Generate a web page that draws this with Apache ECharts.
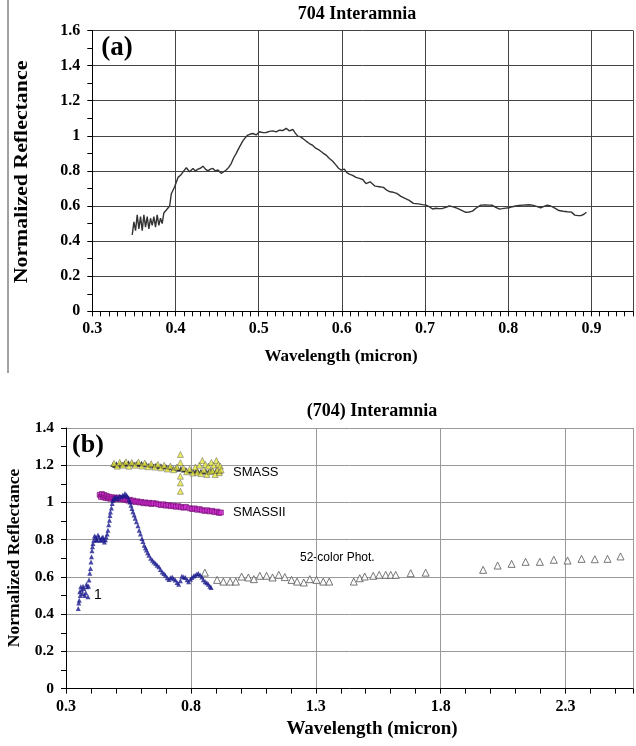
<!DOCTYPE html>
<html>
<head>
<meta charset="utf-8">
<script src="https://cdn.jsdelivr.net/npm/echarts@6/dist/echarts.min.js"></script>
<style>
  html, body { margin: 0; padding: 0; background: #fff; }
  #main { width: 636px; height: 746px; }
</style>
</head>
<body>
<div id="main"></div>
<script>
// (a) spectrum, [wavelength, reflectance]
const spectrumA = [
  [0.348,0.435],[0.350,0.51],[0.352,0.46],[0.354,0.55],[0.356,0.47],[0.358,0.54],[0.360,0.46],[0.362,0.55],
  [0.364,0.48],[0.366,0.54],[0.368,0.47],[0.370,0.53],[0.372,0.49],[0.374,0.54],[0.376,0.48],[0.378,0.55],
  [0.380,0.49],[0.382,0.53],[0.384,0.50],[0.386,0.56],[0.389,0.577],[0.393,0.60],[0.395,0.67],[0.399,0.71],
  [0.403,0.763],[0.407,0.78],[0.410,0.80],[0.413,0.818],[0.417,0.795],[0.421,0.814],[0.424,0.80],[0.427,0.81],
  [0.430,0.815],[0.433,0.827],[0.436,0.81],[0.439,0.80],[0.442,0.81],[0.445,0.814],[0.448,0.80],[0.451,0.805],
  [0.455,0.786],[0.458,0.795],[0.461,0.805],[0.464,0.82],[0.467,0.842],[0.470,0.875],[0.473,0.90],[0.477,0.937],
  [0.481,0.971],[0.484,0.99],[0.487,1.004],[0.490,1.01],[0.493,1.013],[0.497,1.005],[0.501,1.023],[0.505,1.018],
  [0.509,1.019],[0.513,1.025],[0.517,1.028],[0.521,1.022],[0.525,1.032],[0.529,1.03],[0.533,1.042],[0.537,1.028],
  [0.541,1.036],[0.544,1.015],[0.547,0.998],[0.550,0.995],[0.553,0.985],[0.557,0.97],[0.561,0.956],[0.565,0.945],
  [0.569,0.928],[0.573,0.918],[0.577,0.903],[0.581,0.89],[0.585,0.871],[0.589,0.855],[0.593,0.833],[0.596,0.815],
  [0.599,0.805],[0.603,0.81],[0.606,0.79],[0.609,0.782],[0.613,0.775],[0.617,0.763],[0.621,0.757],[0.625,0.751],
  [0.629,0.728],[0.634,0.738],[0.640,0.713],[0.645,0.71],[0.650,0.706],[0.654,0.69],[0.658,0.681],[0.662,0.678],
  [0.666,0.672],[0.671,0.655],[0.676,0.643],[0.681,0.632],[0.686,0.615],[0.692,0.612],[0.697,0.608],[0.701,0.605],
  [0.705,0.596],[0.709,0.583],[0.713,0.587],[0.717,0.585],[0.721,0.586],[0.725,0.592],[0.729,0.60],[0.734,0.595],
  [0.739,0.586],[0.744,0.575],[0.749,0.564],[0.753,0.566],[0.757,0.571],[0.762,0.59],[0.767,0.605],[0.772,0.606],
  [0.777,0.605],[0.781,0.604],[0.785,0.592],[0.789,0.583],[0.793,0.585],[0.797,0.588],[0.801,0.59],[0.805,0.596],
  [0.809,0.60],[0.813,0.603],[0.817,0.605],[0.821,0.606],[0.825,0.607],[0.829,0.605],[0.834,0.598],[0.839,0.590],
  [0.843,0.598],[0.847,0.605],[0.851,0.60],[0.856,0.588],[0.861,0.574],[0.866,0.570],[0.871,0.567],[0.876,0.565],
  [0.880,0.548],[0.884,0.545],[0.888,0.546],[0.891,0.553],[0.894,0.564]
];

// (b) series
const series1 = [
  [0.349,0.43],[0.351,0.46],[0.353,0.475],[0.355,0.52],[0.357,0.50],[0.359,0.547],[0.362,0.53],[0.366,0.51],
  [0.368,0.55],[0.371,0.538],[0.375,0.50],[0.379,0.515],[0.382,0.56],[0.384,0.547],[0.388,0.493],[0.390,0.55],
  [0.392,0.583],[0.395,0.62],[0.398,0.645],[0.400,0.68],[0.402,0.708],[0.404,0.74],[0.406,0.762],[0.408,0.78],
  [0.411,0.797],[0.414,0.82],[0.419,0.815],[0.421,0.80],[0.424,0.797],[0.428,0.825],[0.432,0.815],[0.436,0.80],
  [0.441,0.797],[0.444,0.81],[0.448,0.815],[0.451,0.80],[0.454,0.788],[0.458,0.80],[0.461,0.815],[0.465,0.83],
  [0.468,0.851],[0.471,0.88],[0.474,0.905],[0.476,0.93],[0.478,0.949],[0.482,0.97],[0.485,0.994],[0.488,1.01],
  [0.491,1.021],[0.496,1.025],[0.501,1.03],[0.507,1.02],[0.514,1.034],[0.520,1.03],[0.527,1.039],[0.532,1.035],
  [0.536,1.048],[0.542,1.04],[0.547,1.03],[0.552,1.015],[0.556,1.003],[0.560,0.985],[0.564,0.967],[0.568,0.95],
  [0.573,0.932],[0.577,0.915],[0.582,0.896],[0.588,0.875],[0.593,0.851],[0.598,0.83],[0.604,0.806],[0.608,0.79],
  [0.613,0.77],[0.618,0.757],[0.622,0.744],[0.627,0.73],[0.632,0.717],[0.639,0.70],[0.646,0.69],[0.652,0.68],
  [0.659,0.672],[0.665,0.662],[0.672,0.654],[0.678,0.64],[0.685,0.627],[0.692,0.618],[0.698,0.609],[0.705,0.595],
  [0.712,0.586],[0.718,0.595],[0.725,0.60],[0.731,0.59],[0.738,0.583],[0.745,0.57],[0.751,0.561],[0.758,0.58],
  [0.764,0.604],[0.771,0.60],[0.778,0.597],[0.785,0.585],[0.791,0.574],[0.798,0.588],[0.804,0.597],[0.811,0.605],
  [0.817,0.609],[0.824,0.615],[0.830,0.618],[0.837,0.61],[0.844,0.60],[0.850,0.585],[0.857,0.574],[0.864,0.568],
  [0.870,0.561],[0.876,0.55],[0.881,0.543]
];

const smassII = [
  [0.435,1.041],[0.440,1.03],[0.444,1.045],[0.449,1.028],[0.453,1.04],[0.458,1.025],[0.463,1.035],[0.468,1.022],
  [0.473,1.03],[0.479,1.02],[0.485,1.028],[0.491,1.018],[0.497,1.025],[0.503,1.02],[0.509,1.026],[0.515,1.017],
  [0.521,1.023],[0.528,1.02],[0.535,1.014],[0.542,1.018],[0.549,1.01],[0.556,1.014],[0.563,1.006],[0.570,1.01],
  [0.578,1.003],[0.586,1.006],[0.594,1.0],[0.602,1.003],[0.610,0.996],[0.618,1.0],[0.626,0.995],[0.634,0.998],
  [0.642,0.992],[0.650,0.996],[0.661,0.994],[0.670,0.99],[0.680,0.986],[0.690,0.99],[0.700,0.983],[0.710,0.986],
  [0.720,0.98],[0.730,0.983],[0.740,0.977],[0.750,0.98],[0.760,0.975],[0.770,0.972],[0.780,0.976],[0.794,0.969],
  [0.805,0.965],[0.815,0.968],[0.825,0.961],[0.835,0.964],[0.845,0.958],[0.855,0.955],[0.865,0.958],[0.875,0.952],
  [0.885,0.955],[0.895,0.948],[0.905,0.951],[0.913,0.944],[0.920,0.946]
];

const smassBlack = [
  [0.488,1.204],[0.495,1.198],[0.502,1.208],[0.510,1.20],[0.518,1.21],[0.526,1.203],[0.534,1.212],[0.542,1.205],
  [0.550,1.213],[0.558,1.207],[0.566,1.211],[0.575,1.205],[0.584,1.21],[0.593,1.204],[0.602,1.21],[0.611,1.202],
  [0.620,1.206],[0.630,1.198],[0.640,1.203],[0.650,1.196],[0.660,1.20],[0.670,1.193],[0.680,1.197],[0.690,1.19],
  [0.700,1.193],[0.710,1.186],[0.720,1.19],[0.730,1.183],[0.741,1.186],[0.750,1.178],[0.760,1.182],[0.770,1.174],
  [0.780,1.177],[0.790,1.168],[0.800,1.172],[0.810,1.165],[0.820,1.169],[0.830,1.163],[0.840,1.167],[0.850,1.164],
  [0.860,1.168],[0.870,1.165],[0.880,1.17],[0.890,1.166],[0.900,1.169],[0.910,1.165],[0.918,1.168]
];

const smassYellow = [
  [0.492,1.21],[0.505,1.195],[0.515,1.215],[0.528,1.20],[0.540,1.218],[0.552,1.195],[0.563,1.215],[0.577,1.20],
  [0.590,1.217],[0.603,1.196],[0.615,1.212],[0.628,1.192],[0.641,1.208],[0.655,1.19],[0.668,1.205],[0.680,1.186],
  [0.693,1.20],[0.706,1.18],[0.718,1.196],[0.731,1.176],[0.744,1.19],[0.758,1.258],[0.758,1.213],[0.758,1.141],
  [0.758,1.105],[0.758,1.06],[0.770,1.185],[0.783,1.165],[0.795,1.18],[0.808,1.158],[0.818,1.19],[0.826,1.162],
  [0.834,1.20],[0.840,1.155],[0.846,1.225],[0.852,1.175],[0.858,1.205],[0.864,1.15],[0.870,1.195],[0.876,1.165],
  [0.882,1.215],[0.887,1.17],[0.892,1.2],[0.897,1.15],[0.902,1.225],[0.906,1.175],[0.910,1.205],[0.914,1.16],
  [0.918,1.195],[0.921,1.175]
];

const phot52 = [
  [0.856,0.623],[0.905,0.584],[0.930,0.575],[0.957,0.575],[0.980,0.575],[1.003,0.602],[1.030,0.597],[1.052,0.588],
  [1.076,0.606],[1.103,0.606],[1.127,0.597],[1.152,0.611],[1.176,0.599],[1.203,0.584],[1.225,0.575],[1.252,0.570],
  [1.276,0.588],[1.303,0.584],[1.330,0.575],[1.354,0.575],[1.452,0.575],[1.476,0.593],[1.496,0.602],[1.530,0.606],
  [1.554,0.611],[1.580,0.611],[1.600,0.611],[1.620,0.611],[1.680,0.620],[1.740,0.623],[1.970,0.638],[2.028,0.661],
  [2.084,0.670],[2.140,0.681],[2.197,0.681],[2.253,0.692],[2.308,0.688],[2.364,0.697],[2.417,0.695],[2.468,0.697],
  [2.520,0.710]
];

const serif = '"Liberation Serif", "DejaVu Serif", serif';
const sans = '"Liberation Sans", Arial, sans-serif';

function txt(x, y, text, font, align, extra) {
  align = align || 'center';
  return Object.assign({
    type: 'text', x: x, y: y, silent: true,
    style: { text: text, font: font, fill: '#000', textAlign: align, textVerticalAlign: 'middle', align: align, verticalAlign: 'middle' }
  }, extra || {});
}

// axis with labels + grid lines (ticks drawn by a separate tick axis)
function axisX(grid, min, max, interval, gridColor, fontSize, lastLabel) {
  return {
    type: 'value', gridIndex: grid, min: min, max: max, interval: interval,
    axisLine: { onZero: false, lineStyle: { color: '#000', width: 1 } },
    axisTick: { show: false },
    splitLine: { show: true, lineStyle: { color: gridColor, width: 1 } },
    axisLabel: {
      color: '#000', fontFamily: serif, fontWeight: 'bold', fontSize: fontSize, margin: 10,
      formatter: v => (v > lastLabel + 1e-6 ? '' : v.toFixed(1))
    }
  };
}

function tickX(grid, min, max, interval) {
  return {
    type: 'value', gridIndex: grid, min: min, max: max, interval: interval, position: 'bottom',
    axisLine: { show: false },
    axisTick: { show: true, length: 5, lineStyle: { color: '#000' } },
    splitLine: { show: false },
    axisLabel: { show: false }
  };
}

function axisY(grid, max, gridColor, fontSize) {
  return {
    type: 'value', gridIndex: grid, min: 0, max: max, interval: 0.2,
    axisLine: { show: true, lineStyle: { color: '#000', width: 1 } },
    axisTick: { show: true, length: 5, lineStyle: { color: '#000' } },
    minorTick: { show: true, splitNumber: 2, length: 5, lineStyle: { color: '#000' } },
    splitLine: { show: true, lineStyle: { color: gridColor, width: 1 } },
    axisLabel: { color: '#000', fontFamily: serif, fontWeight: 'bold', fontSize: fontSize, margin: 12 }
  };
}

const chart = echarts.init(document.getElementById('main'));
chart.setOption({
  animation: false,
  backgroundColor: '#fff',
  grid: [
    { left: 92.3, top: 30.5, right: 1.6, height: 280.8 },
    { left: 66, top: 428, right: 0, height: 260.6 }
  ],
  xAxis: [
    axisX(0, 0.3, 0.95, 0.1, '#444', 16, 0.9),
    axisX(1, 0.3, 2.57, 0.5, '#999', 16, 2.3),
    tickX(0, 0.3, 0.95, 0.01),
    tickX(1, 0.3, 2.57, 0.1)
  ],
  yAxis: [
    axisY(0, 1.6, '#444', 16),
    axisY(1, 1.4, '#999', 15.5)
  ],
  series: [
    {
      type: 'line', xAxisIndex: 0, yAxisIndex: 0, data: spectrumA,
      symbol: 'none', lineStyle: { color: '#333', width: 1.4 }
    },
    {
      name: '52-color Phot.', type: 'scatter', xAxisIndex: 1, yAxisIndex: 1, data: phot52,
      symbol: 'triangle', symbolSize: 7,
      itemStyle: { color: '#fff', borderColor: '#555', borderWidth: 1 }
    },
    {
      name: 'SMASSII', type: 'scatter', xAxisIndex: 1, yAxisIndex: 1, data: smassII,
      symbol: 'rect', symbolSize: 5,
      itemStyle: { color: '#d02ad0', borderColor: '#6a0a6a', borderWidth: 0.8 }
    },
    {
      name: 'SMASS', type: 'scatter', xAxisIndex: 1, yAxisIndex: 1, data: smassBlack,
      symbol: 'triangle', symbolSize: 5,
      itemStyle: { color: '#111' }
    },
    {
      name: 'SMASS', type: 'scatter', xAxisIndex: 1, yAxisIndex: 1, data: smassYellow,
      symbol: 'triangle', symbolSize: 6,
      itemStyle: { color: '#e8e83a', borderColor: '#555', borderWidth: 0.6 }
    },
    {
      name: '1', type: 'scatter', xAxisIndex: 1, yAxisIndex: 1, data: series1,
      symbol: 'triangle', symbolSize: 5,
      itemStyle: { color: '#1c1c8e' }
    }
  ],
  graphic: [
    { type: 'line', silent: true, shape: { x1: 8, y1: 0, x2: 8, y2: 373 }, style: { stroke: '#444', lineWidth: 1 } },
    txt(357, 14, '704 Interamnia', 'bold 18px ' + serif),
    txt(117, 48, '(a)', 'bold 27px ' + serif),
    txt(22, 172, 'Normalized Reflectance', 'bold 19px ' + serif, 'center', { rotation: Math.PI / 2, scaleX: 1.15 }),
    txt(341, 357, 'Wavelength (micron)', 'bold 17px ' + serif),
    txt(372, 411, '(704) Interamnia', 'bold 18px ' + serif),
    txt(88, 445, '(b)', 'bold 26px ' + serif),
    txt(14, 558, 'Normalized Reflectance', 'bold 17.5px ' + serif, 'center', { rotation: Math.PI / 2 }),
    txt(372, 729, 'Wavelength (micron)', 'bold 19px ' + serif),
    txt(98, 595, '1', '14px ' + sans),
    txt(233, 472, 'SMASS', '13px ' + sans, 'left'),
    txt(233, 512, 'SMASSII', '13px ' + sans, 'left'),
    txt(300, 558, '52-color Phot.', '12px ' + sans, 'left')
  ]
});
</script>
</body>
</html>
